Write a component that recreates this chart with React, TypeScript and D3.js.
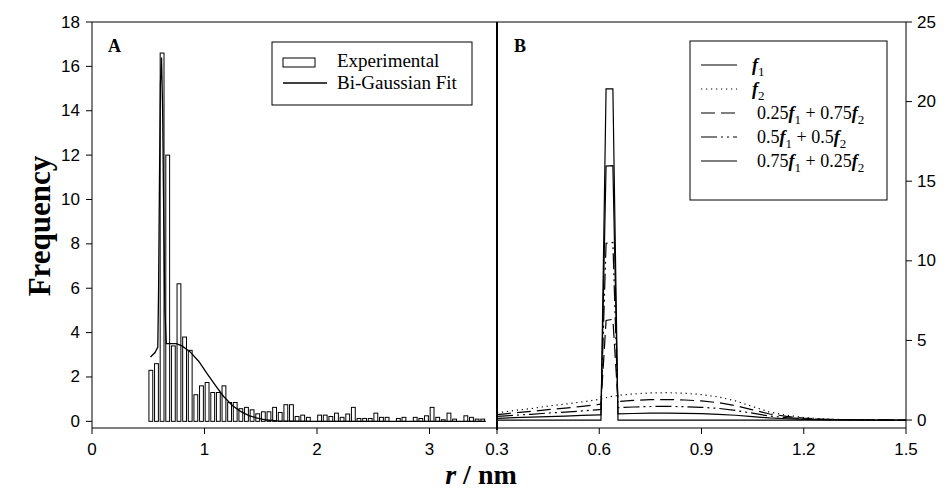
import React from "react";
import * as d3 from "d3";

// ---------- Panel A data ----------
const binStarts = [
  0.5, 0.55, 0.6, 0.65, 0.7, 0.75, 0.8, 0.85, 0.9, 0.95,
  1.0, 1.05, 1.1, 1.15, 1.2, 1.25, 1.3, 1.35, 1.4, 1.45,
  1.5, 1.55, 1.6, 1.65, 1.7, 1.75, 1.8, 1.85, 1.9, 1.95,
  2.0, 2.05, 2.1, 2.15, 2.2, 2.25, 2.3, 2.35, 2.4, 2.45,
  2.5, 2.55, 2.6, 2.65, 2.7, 2.75, 2.8, 2.85, 2.9, 2.95,
  3.0, 3.05, 3.1, 3.15, 3.2, 3.25, 3.3, 3.35, 3.4, 3.45,
];
const binCounts = [
  2.3, 2.6, 16.6, 12.0, 3.4, 6.2, 3.8, 3.2, 1.2, 1.6,
  1.75, 1.3, 1.3, 1.6, 0.85, 0.85, 0.57, 0.63, 0.52, 0.34,
  0.43, 0.43, 0.63, 0.4, 0.75, 0.75, 0.22, 0.28, 0.18, 0,
  0.28, 0.28, 0.22, 0.37, 0.18, 0.33, 0.63, 0.13, 0.13, 0.13,
  0.37, 0.18, 0.18, 0, 0.13, 0.18, 0, 0.18, 0.13, 0.25,
  0.63, 0.18, 0.07, 0.37, 0.1, 0, 0.25, 0.18, 0.1, 0.1,
];
const fitX = [
  0.52, 0.56, 0.585, 0.592, 0.6, 0.608, 0.618, 0.628, 0.638, 0.648,
  0.66, 0.7, 0.75, 0.8, 0.87, 0.95, 1.02, 1.1, 1.17, 1.25,
  1.32, 1.4, 1.47, 1.55, 1.65, 1.8, 2.0, 2.5, 3.0, 3.5,
];
const fitY = [
  2.9, 3.1, 3.35, 6, 11, 15.2, 16.4, 14, 9, 5,
  3.5, 3.5, 3.5, 3.4, 3.14, 2.7, 2.17, 1.6, 1.12, 0.7,
  0.45, 0.25, 0.15, 0.06, 0.02, 0.01, 0, 0, 0, 0,
];
const yTicksA = [0, 2, 4, 6, 8, 10, 12, 14, 16, 18];
const xTicksA = [0, 1, 2, 3];

// ---------- Panel B data ----------
const rB = [
  0.3, 0.35, 0.4, 0.45, 0.5, 0.55, 0.6, 0.605, 0.62, 0.64, 0.655,
  0.7, 0.75, 0.8, 0.85, 0.9, 0.95, 1.0, 1.05, 1.1, 1.15,
  1.2, 1.25, 1.3, 1.35, 1.4, 1.45, 1.5,
];
const f1 = [
  0, 0, 0, 0, 0, 0, 0, 0, 20.8, 20.8, 0,
  0, 0, 0, 0, 0, 0, 0, 0, 0, 0,
  0, 0, 0, 0, 0, 0, 0,
];
const f2 = [
  0.45, 0.6, 0.72, 0.88, 1.0, 1.14, 1.3, 1.32, 1.4, 1.5, 1.55,
  1.64, 1.7, 1.72, 1.68, 1.6, 1.45, 1.2, 0.85, 0.5, 0.3,
  0.16, 0.08, 0.04, 0.02, 0.01, 0, 0,
];
const mix25 = [
  0.34, 0.45, 0.54, 0.66, 0.75, 0.86, 0.98, 0.99, 6.25, 6.33, 1.16,
  1.23, 1.28, 1.29, 1.26, 1.2, 1.09, 0.9, 0.64, 0.38, 0.23,
  0.12, 0.06, 0.03, 0.02, 0.01, 0, 0,
];
const mix50 = [
  0.23, 0.3, 0.36, 0.44, 0.5, 0.57, 0.65, 0.66, 11.1, 11.15, 0.78,
  0.82, 0.85, 0.86, 0.84, 0.8, 0.73, 0.6, 0.43, 0.25, 0.15,
  0.08, 0.04, 0.02, 0.01, 0.01, 0, 0,
];
const mix75 = [
  0.11, 0.15, 0.18, 0.22, 0.25, 0.29, 0.33, 0.33, 15.95, 15.98, 0.39,
  0.41, 0.43, 0.43, 0.42, 0.4, 0.36, 0.3, 0.21, 0.13, 0.08,
  0.04, 0.02, 0.01, 0.01, 0, 0, 0,
];
const xTicksB = [0.3, 0.6, 0.9, 1.2, 1.5];
const xTickLabelsB = ["0.3", "0.6", "0.9", "1.2", "1.5"];
const yTicksB = [0, 5, 10, 15, 20, 25];

const SANS = "'Liberation Sans', Arial, sans-serif";
const SERIF = "'Liberation Serif', 'Times New Roman', serif";

type Part = { coef: string; sub: string; after: string };

export default function App() {
  const top = 22, bottom = 428, leftA = 92, mid = 497, rightB = 906;
  const xA = d3.scaleLinear().domain([0, 3.6]).range([leftA, mid]);
  const yA = d3.scaleLinear().domain([-0.3, 18]).range([bottom, top]);
  const xB = d3.scaleLinear().domain([0.3, 1.5]).range([mid, rightB]);
  const yB = d3.scaleLinear().domain([-0.5, 25]).range([bottom, top]);

  const fitLine = d3.line<number>().x((_, i) => xA(fitX[i])).y((d) => yA(d));
  const lineB = d3.line<number>().x((_, i) => xB(rB[i])).y((d) => yB(d));

  const seriesB = [
    { data: f2, dash: "1.2,3.8" },
    { data: mix25, dash: "14,6" },
    { data: mix50, dash: "16,4,2,4,2,4" },
    { data: mix75, dash: "" },
    { data: f1, dash: "" },
  ];

  const legendB: { dash: string; y: number; x: number; parts: Part[] }[] = [
    { dash: "", y: 65, x: 752, parts: [{ coef: "", sub: "1", after: "" }] },
    { dash: "1.2,3.8", y: 89, x: 752, parts: [{ coef: "", sub: "2", after: "" }] },
    {
      dash: "14,6", y: 113, x: 757,
      parts: [{ coef: "0.25", sub: "1", after: " + 0.75" }, { coef: "", sub: "2", after: "" }],
    },
    {
      dash: "16,4,2,4,2,4", y: 137, x: 757,
      parts: [{ coef: "0.5", sub: "1", after: " + 0.5" }, { coef: "", sub: "2", after: "" }],
    },
    {
      dash: "", y: 161, x: 757,
      parts: [{ coef: "0.75", sub: "1", after: " + 0.25" }, { coef: "", sub: "2", after: "" }],
    },
  ];

  return (
    <svg
      width={945}
      height={491}
      style={{ position: "absolute", left: 0, top: 0, background: "#fff" }}
    >
      <rect x={0} y={0} width={945} height={491} fill="#fff" />

      {/* Histogram bars */}
      {binStarts.map((b, i) =>
        binCounts[i] > 0 ? (
          <rect
            key={"bar" + i}
            x={xA(b + 0.006)}
            y={yA(binCounts[i])}
            width={xA(b + 0.04) - xA(b + 0.006)}
            height={yA(0) - yA(binCounts[i])}
            fill="#fff"
            stroke="#000"
            strokeWidth={1}
          />
        ) : null
      )}
      <path d={fitLine(fitY) || ""} fill="none" stroke="#000" strokeWidth={1.3} />

      {/* Panel B curves */}
      {seriesB.map((s, k) => (
        <path
          key={"s" + k}
          d={lineB(s.data) || ""}
          fill="none"
          stroke="#000"
          strokeWidth={1.2}
          strokeDasharray={s.dash || undefined}
        />
      ))}

      {/* Frame */}
      <line x1={leftA} x2={rightB} y1={top} y2={top} stroke="#000" strokeWidth={1} />
      <line x1={leftA} x2={rightB} y1={bottom} y2={bottom} stroke="#000" strokeWidth={1} />
      <line x1={leftA} x2={leftA} y1={top} y2={bottom} stroke="#000" strokeWidth={1} />
      <line x1={rightB} x2={rightB} y1={top} y2={bottom} stroke="#000" strokeWidth={1} />
      <line x1={mid} x2={mid} y1={top} y2={bottom + 2} stroke="#000" strokeWidth={2} />

      {/* Axis A ticks */}
      {yTicksA.map((t) => (
        <g key={"ya" + t}>
          <line x1={leftA - 6} x2={leftA} y1={yA(t)} y2={yA(t)} stroke="#000" />
          <text
            x={80}
            y={yA(t)}
            textAnchor="end"
            dominantBaseline="central"
            fontFamily={SANS}
            fontSize={17}
          >
            {t}
          </text>
        </g>
      ))}
      {xTicksA.map((t) => (
        <g key={"xa" + t}>
          <line x1={xA(t)} x2={xA(t)} y1={bottom} y2={bottom + 6} stroke="#000" />
          <text
            x={xA(t)}
            y={449}
            textAnchor="middle"
            dominantBaseline="central"
            fontFamily={SANS}
            fontSize={17}
          >
            {t}
          </text>
        </g>
      ))}

      {/* Axis B ticks */}
      {xTicksB.map((t, i) => (
        <g key={"xb" + t}>
          <line x1={xB(t)} x2={xB(t)} y1={bottom} y2={bottom + 6} stroke="#000" />
          <text
            x={xB(t)}
            y={449}
            textAnchor="middle"
            dominantBaseline="central"
            fontFamily={SANS}
            fontSize={17}
          >
            {xTickLabelsB[i]}
          </text>
        </g>
      ))}
      {yTicksB.map((t) => (
        <g key={"yb" + t}>
          <line x1={rightB} x2={rightB + 6} y1={yB(t)} y2={yB(t)} stroke="#000" />
          <text
            x={917}
            y={yB(t)}
            textAnchor="start"
            dominantBaseline="central"
            fontFamily={SANS}
            fontSize={17}
          >
            {t}
          </text>
        </g>
      ))}

      {/* Panel letters */}
      <text x={108} y={52} fontFamily={SERIF} fontWeight="bold" fontSize={18}>
        A
      </text>
      <text x={514} y={52} fontFamily={SERIF} fontWeight="bold" fontSize={18}>
        B
      </text>

      {/* Legend A */}
      <rect x={272} y={42} width={200} height={63} fill="#fff" stroke="#000" strokeWidth={1} />
      <rect x={283} y={58} width={32} height={9} fill="#fff" stroke="#000" strokeWidth={1} />
      <text x={337} y={67} fontFamily={SERIF} fontSize={19}>
        Experimental
      </text>
      <line x1={283} x2={327} y1={83} y2={83} stroke="#000" strokeWidth={1.3} />
      <text x={337} y={89} fontFamily={SERIF} fontSize={19}>
        Bi-Gaussian Fit
      </text>

      {/* Legend B */}
      <rect x={690} y={41} width={197} height={159} fill="#fff" stroke="#000" strokeWidth={1} />
      {legendB.map((e, k) => (
        <g key={"lb" + k}>
          <line
            x1={701}
            x2={737}
            y1={e.y}
            y2={e.y}
            stroke="#000"
            strokeWidth={1.2}
            strokeDasharray={e.dash || undefined}
          />
          <text x={e.x} y={e.y + 6} fontFamily={SERIF} fontSize={18}>
            {e.parts.map((p, j) => {
              const items: React.ReactNode[] = [];
              if (p.coef) items.push(<tspan key="c">{p.coef}</tspan>);
              items.push(
                <tspan key="f" fontStyle="italic" fontWeight="bold">
                  f
                </tspan>
              );
              items.push(
                <tspan key="s" dy={5} fontSize={13}>
                  {p.sub}
                </tspan>
              );
              if (p.after)
                items.push(
                  <tspan key="a" dy={-5}>
                    {p.after}
                  </tspan>
                );
              return <React.Fragment key={j}>{items}</React.Fragment>;
            })}
          </text>
        </g>
      ))}

      {/* Axis titles */}
      <text
        transform="translate(39,226) rotate(-90)"
        textAnchor="middle"
        dominantBaseline="central"
        fontFamily={SERIF}
        fontWeight="bold"
        fontSize={31}
      >
        Frequency
      </text>
      <text x={481} y={484} textAnchor="middle" fontFamily={SERIF} fontWeight="bold" fontSize={28}>
        <tspan fontStyle="italic">r</tspan>
        <tspan> / nm</tspan>
      </text>
    </svg>
  );
}
